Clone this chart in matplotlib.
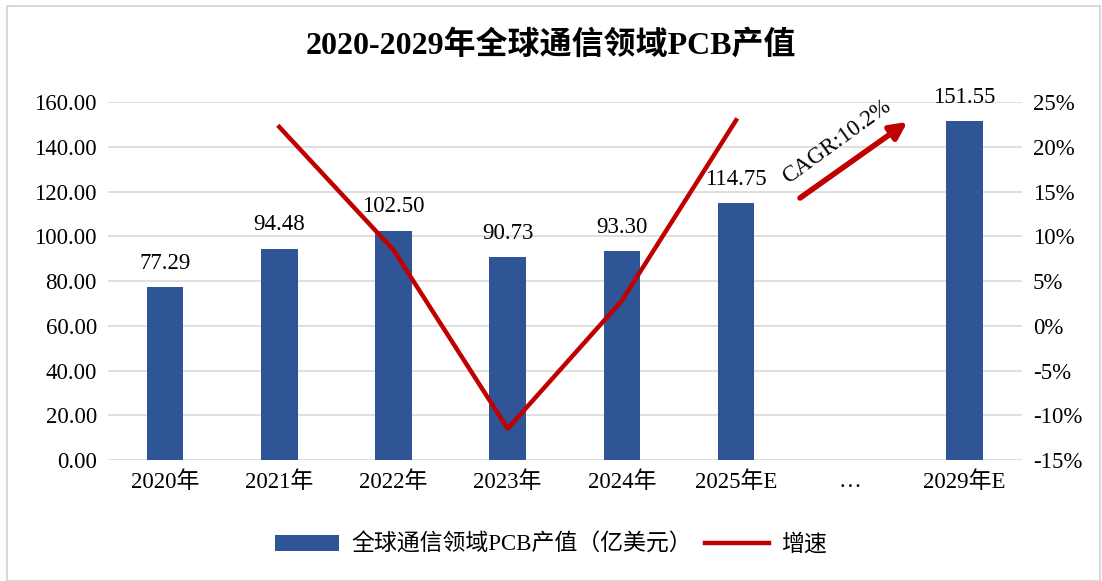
import matplotlib.pyplot as plt
import numpy as np
from matplotlib.patches import Rectangle

plt.rcParams['font.family'] = ['Liberation Serif', 'Noto Sans CJK SC']

categories = ["2020年", "2021年", "2022年", "2023年", "2024年", "2025年E", "…", "2029年E"]
output_values = [77.29, 94.48, 102.50, 90.73, 93.30, 114.75, None, 151.55]
growth_pct = [None, 22.24, 8.49, -11.48, 2.83, 22.99, None, None]
cagr_label = "CAGR:10.2%"

bar_color = "#2F5597"
line_color = "#C00000"
fs = 16.5

fig = plt.figure(figsize=(11.02, 5.81), dpi=100)
fig.patches.append(Rectangle((0.006, 0.0), 0.992, 0.99, transform=fig.transFigure,
                             fill=False, edgecolor="#D9D9D9", linewidth=1.5))
ax = fig.add_axes([0.098, 0.208, 0.829, 0.616])
ax.set_axisbelow(True)

x = np.arange(len(categories))
bar_x = [i for i, v in enumerate(output_values) if v is not None]
bar_v = [v for v in output_values if v is not None]
bars = ax.bar(bar_x, bar_v, 0.32, color=bar_color, label="全球通信领域PCB产值（亿美元）", zorder=2)
for bx, bv in zip(bar_x, bar_v):
    ax.text(bx, bv + 6, f"{bv:.2f}", ha="center", va="bottom", fontsize=fs)

ax.set_xlim(-0.5, len(categories) - 0.5)
ax.set_ylim(0, 160)
ax.set_yticks(np.arange(0, 161, 20))
ax.set_yticklabels([f"{v:.2f}" for v in np.arange(0, 161, 20)], fontsize=fs)
ax.set_xticks(x)
ax.set_xticklabels(categories, fontsize=fs)
ax.grid(axis="y", color="#D9D9D9", linewidth=1.2)
ax.tick_params(length=0, pad=8)
for s in ax.spines.values():
    s.set_visible(False)

ax2 = ax.twinx()
line_x = [i for i, v in enumerate(growth_pct) if v is not None]
line_v = [v for v in growth_pct if v is not None]
ln, = ax2.plot(line_x, line_v, color=line_color, linewidth=3.2, label="增速", zorder=3)
ax2.set_ylim(-15, 25)
ax2.set_yticks(np.arange(-15, 26, 5))
ax2.set_yticklabels([f"{v}%" for v in range(-15, 26, 5)], fontsize=fs)
ax2.tick_params(length=0, pad=8)
for s in ax2.spines.values():
    s.set_visible(False)

# CAGR arrow
ax2.annotate("", xy=(6.50, 22.8), xytext=(5.56, 14.3),
             arrowprops=dict(arrowstyle="-|>,head_length=1.0,head_width=0.5",
                             color=line_color, linewidth=4, shrinkA=0, shrinkB=0))
ax2.text(5.88, 20.6, cagr_label, rotation=36, ha="center", va="center", fontsize=fs)

fig.text(0.5, 0.922, "2020-2029年全球通信领域PCB产值", ha="center", va="center",
         fontsize=23, fontweight="bold")

fig.legend([bars, ln], [bars.get_label(), ln.get_label()], loc="center",
           bbox_to_anchor=(0.5, 0.062), ncol=2, frameon=False, fontsize=fs,
           handlelength=2.8, handletextpad=0.5, columnspacing=0.6)

fig.savefig("out.png", dpi=100)
